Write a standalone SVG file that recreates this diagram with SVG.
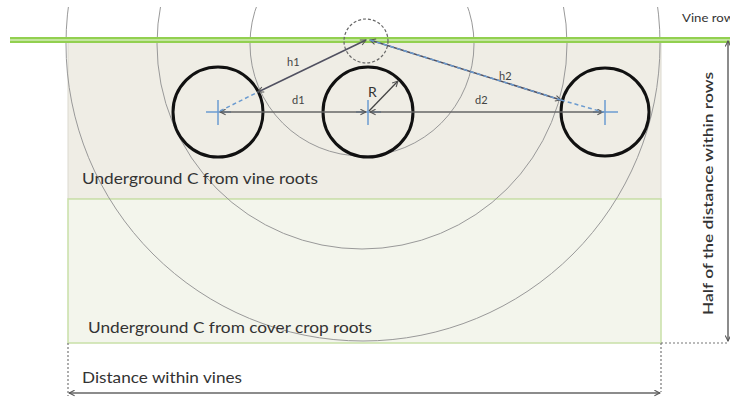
<svg xmlns="http://www.w3.org/2000/svg" width="730" height="398" viewBox="0 0 730 398">
<style>
.t{font-family:Lato,"Liberation Sans",sans-serif;fill:#333}
.lbl{font-family:Lato,"Liberation Sans",sans-serif;fill:#444;font-size:11px}
.arc{fill:none;stroke:#999;stroke-width:1}
.vine{fill:none;stroke:#111;stroke-width:3}
.cross{stroke:#6b9bd0;stroke-width:1.5}
.dim{fill:none;stroke:#666;stroke-width:1.5}
.dot{fill:none;stroke:#777;stroke-width:1.2;stroke-dasharray:2,2}
.bdash{fill:none;stroke:#6b9bd0;stroke-width:1.5;stroke-dasharray:4,3}
</style>
<defs>
<marker id="ah" viewBox="0 0 10 10" refX="9" refY="5" markerWidth="7" markerHeight="7" markerUnits="userSpaceOnUse" orient="auto-start-reverse">
<path d="M1,1 L9,5 L1,9" fill="none" stroke="#555" stroke-width="1.5"/>
</marker>
<clipPath id="cp"><rect x="60" y="7" width="610" height="337"/></clipPath>
</defs>
<g id="background">
<rect x="68" y="40" width="593" height="159" fill="#efede5" stroke="#dcd9cf" stroke-width="1"/>
<rect x="68" y="199" width="593" height="144" fill="#f3f5ec" stroke="#c9e0a8" stroke-width="1.5"/>
</g>
<g id="arcs" clip-path="url(#cp)">
<circle class="arc" cx="362" cy="44" r="112"/>
<circle class="arc" cx="362" cy="44" r="205"/>
<circle class="arc" cx="363" cy="44" r="297"/>
</g>
<g id="vine-row">
<line x1="10" y1="40" x2="730" y2="40" stroke="#92d050" stroke-width="6"/>
<line x1="10" y1="40" x2="730" y2="40" stroke="#c4e5a0" stroke-width="2"/>
</g>
<g id="vine-left">
<circle class="vine" cx="218" cy="112" r="45"/>
<line class="cross" x1="206" y1="112" x2="231" y2="112"/><line class="cross" x1="218" y1="100" x2="218" y2="125"/>
</g>
<g id="vine-center">
<circle class="vine" cx="368" cy="112" r="45"/>
<line class="cross" x1="356" y1="112" x2="381" y2="112"/><line class="cross" x1="368" y1="100" x2="368" y2="125"/>
</g>
<g id="vine-right">
<circle class="vine" cx="605" cy="112" r="44"/>
<line class="cross" x1="593" y1="112" x2="618" y2="112"/><line class="cross" x1="605" y1="100" x2="605" y2="125"/>
</g>
<g id="point">
<circle cx="366" cy="41" r="22" fill="none" stroke="#666" stroke-width="1.2" stroke-dasharray="3,2"/>
</g>
<g id="connectors">
<line class="dim" x1="220" y1="112" x2="366" y2="112" marker-start="url(#ah)" marker-end="url(#ah)"/>
<line class="dim" x1="370" y1="112" x2="603" y2="112" marker-start="url(#ah)" marker-end="url(#ah)"/>
<line class="bdash" x1="220" y1="111" x2="258" y2="92"/>
<line x1="258" y1="92" x2="366" y2="40" stroke="#505060" stroke-width="1.5" marker-start="url(#ah)" marker-end="url(#ah)"/>
<line x1="370" y1="40" x2="561" y2="100" stroke="#505060" stroke-width="1.5" marker-start="url(#ah)" marker-end="url(#ah)"/>
<line class="bdash" x1="370" y1="40" x2="561" y2="100"/>
<line class="bdash" x1="561" y1="100" x2="603" y2="112"/>
<line x1="369" y1="111" x2="398" y2="81" stroke="#444" stroke-width="1.3" marker-end="url(#ah)"/>
<line class="dim" x1="728" y1="41" x2="728" y2="341" marker-start="url(#ah)" marker-end="url(#ah)"/>
<line class="dot" x1="661" y1="343" x2="728" y2="343"/>
<line class="dot" x1="661" y1="343" x2="661" y2="392"/>
<line class="dot" x1="68" y1="343" x2="68" y2="396"/>
<line class="dim" x1="69" y1="393" x2="660" y2="393" marker-start="url(#ah)" marker-end="url(#ah)"/>
</g>
<g id="labels">
<text class="lbl" x="287" y="66">h1</text>
<text class="lbl" x="499" y="80">h2</text>
<text class="lbl" x="292" y="104">d1</text>
<text class="lbl" x="475" y="104">d2</text>
<text class="t" x="368" y="97" font-size="14">R</text>
<text class="t" x="682" y="22" font-size="11" textLength="52" lengthAdjust="spacingAndGlyphs">Vine row</text>
<text class="t" x="82" y="184" font-size="15" textLength="236" lengthAdjust="spacingAndGlyphs">Underground C from vine roots</text>
<text class="t" x="88" y="333" font-size="15" textLength="284" lengthAdjust="spacingAndGlyphs">Underground C from cover crop roots</text>
<text class="t" x="82" y="383" font-size="15" textLength="160" lengthAdjust="spacingAndGlyphs">Distance within vines</text>
<text class="t" transform="translate(713,315) rotate(-90)" font-size="14" textLength="243" lengthAdjust="spacingAndGlyphs" style="font-weight:600">Half of the distance within rows</text>
</g>
</svg>
